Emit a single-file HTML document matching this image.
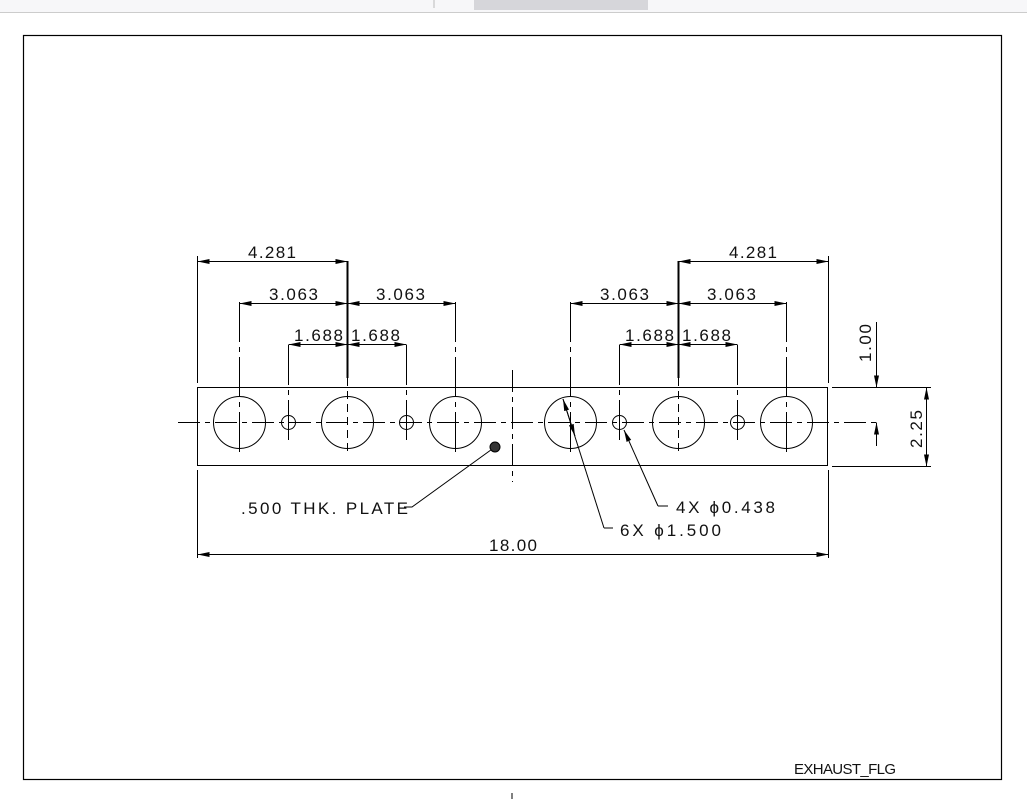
<!DOCTYPE html>
<html><head><style>
html,body{margin:0;padding:0;background:#fff;}
svg{display:block;}
text{font-family:"Liberation Sans",sans-serif;font-size:17px;fill:#111;}
</style></head><body>
<svg width="1027" height="799" viewBox="0 0 1027 799" xmlns="http://www.w3.org/2000/svg">
<defs>
<marker id="a" viewBox="0 0 12 6" refX="12" refY="3" markerWidth="12" markerHeight="6" markerUnits="userSpaceOnUse" orient="auto-start-reverse">
<path d="M0,0.5 L12,3 L0,5.5 z" fill="#000"/></marker>
</defs>
<rect x="0" y="0" width="1027" height="12" fill="#f7f7f9"/>
<line x1="0" y1="12.5" x2="1027" y2="12.5" stroke="#ccc"/>
<rect x="474" y="0" width="174" height="10" fill="#d6d6da"/>
<line x1="434" y1="0" x2="434" y2="8" stroke="#bbb"/>
<rect x="23.5" y="35.5" width="978" height="744" fill="none" stroke="#000" stroke-width="1.2"/>
<line x1="512" y1="793" x2="512" y2="799" stroke="#000"/>

<g stroke="#000" stroke-width="1" fill="none">
<rect x="197.5" y="387.5" width="630" height="78"/>
<line x1="178" y1="422.5" x2="880" y2="422.5" stroke-dasharray="22,5,5,5"/>
<line x1="512.5" y1="370" x2="512.5" y2="482" stroke-dasharray="22,5,5,5"/>
<circle cx="239.5" cy="422.5" r="26"/>
<circle cx="347.5" cy="422.5" r="26"/>
<circle cx="455.5" cy="422.5" r="26"/>
<circle cx="570.5" cy="422.5" r="26"/>
<circle cx="678.5" cy="422.5" r="26"/>
<circle cx="786.5" cy="422.5" r="26"/>
<circle cx="288.5" cy="422.5" r="7"/>
<circle cx="406.5" cy="422.5" r="7"/>
<circle cx="619.5" cy="422.5" r="7"/>
<circle cx="737.5" cy="422.5" r="7"/>
<g stroke-dasharray="40,5,5,5">
<line x1="239.5" y1="302" x2="239.5" y2="454"/>
<line x1="455.5" y1="302" x2="455.5" y2="454"/>
<line x1="570.5" y1="302" x2="570.5" y2="454"/>
<line x1="786.5" y1="302" x2="786.5" y2="454"/>
<line x1="288.5" y1="345" x2="288.5" y2="440"/>
<line x1="406.5" y1="345" x2="406.5" y2="440"/>
<line x1="619.5" y1="345" x2="619.5" y2="440"/>
<line x1="737.5" y1="345" x2="737.5" y2="440"/>
</g>
<line x1="347.5" y1="261" x2="347.5" y2="378" stroke-width="2"/>
<line x1="347.5" y1="378" x2="347.5" y2="454" stroke-dasharray="8,5"/>
<line x1="678.5" y1="261" x2="678.5" y2="378" stroke-width="2"/>
<line x1="678.5" y1="378" x2="678.5" y2="454" stroke-dasharray="8,5"/>
<line x1="197.5" y1="256" x2="197.5" y2="383"/>
<line x1="828.5" y1="256" x2="828.5" y2="383"/>
<line x1="197.5" y1="470" x2="197.5" y2="558"/>
<line x1="828.5" y1="470" x2="828.5" y2="558"/>
<line x1="197.5" y1="261.5" x2="347.5" y2="261.5" marker-start="url(#a)" marker-end="url(#a)"/>
<line x1="678.5" y1="261.5" x2="828.5" y2="261.5" marker-start="url(#a)" marker-end="url(#a)"/>
<line x1="239.5" y1="303.5" x2="347.5" y2="303.5" marker-start="url(#a)" marker-end="url(#a)"/>
<line x1="347.5" y1="303.5" x2="455.5" y2="303.5" marker-start="url(#a)" marker-end="url(#a)"/>
<line x1="570.5" y1="303.5" x2="678.5" y2="303.5" marker-start="url(#a)" marker-end="url(#a)"/>
<line x1="678.5" y1="303.5" x2="786.5" y2="303.5" marker-start="url(#a)" marker-end="url(#a)"/>
<line x1="288.5" y1="344.5" x2="347.5" y2="344.5" marker-start="url(#a)" marker-end="url(#a)"/>
<line x1="347.5" y1="344.5" x2="406.5" y2="344.5" marker-start="url(#a)" marker-end="url(#a)"/>
<line x1="619.5" y1="344.5" x2="678.5" y2="344.5" marker-start="url(#a)" marker-end="url(#a)"/>
<line x1="678.5" y1="344.5" x2="737.5" y2="344.5" marker-start="url(#a)" marker-end="url(#a)"/>
<line x1="197.5" y1="554.5" x2="828.5" y2="554.5" marker-start="url(#a)" marker-end="url(#a)"/>
<line x1="832" y1="387.5" x2="931" y2="387.5"/>
<line x1="832" y1="466.5" x2="931" y2="466.5"/>
<line x1="876.5" y1="322" x2="876.5" y2="387.5" marker-end="url(#a)"/>
<line x1="876.5" y1="446" x2="876.5" y2="422.5" marker-end="url(#a)"/>
<line x1="926.5" y1="387.5" x2="926.5" y2="466.5" marker-start="url(#a)" marker-end="url(#a)"/>
<polyline points="495,447 412,507 404,507"/>
<line x1="604" y1="528" x2="563" y2="399" marker-end="url(#a)"/>
<line x1="563" y1="399" x2="575" y2="436" marker-end="url(#a)"/>
<line x1="604" y1="528" x2="613" y2="528"/>
<line x1="658" y1="506" x2="624" y2="430" marker-end="url(#a)"/>
<line x1="658" y1="506" x2="668" y2="506"/>
</g>
<circle cx="495" cy="447" r="5" fill="#333" stroke="#000"/>

<text x="248" y="258" textLength="48">4.281</text>
<text x="729" y="258" textLength="48">4.281</text>
<text x="269" y="300" textLength="49">3.063</text>
<text x="376" y="300" textLength="49">3.063</text>
<text x="600" y="300" textLength="49">3.063</text>
<text x="707" y="300" textLength="49">3.063</text>
<text x="294" y="341" textLength="49">1.688</text>
<text x="351" y="341" textLength="49">1.688</text>
<text x="625" y="341" textLength="49">1.688</text>
<text x="682" y="341" textLength="49">1.688</text>
<text x="489" y="551" textLength="48">18.00</text>
<text x="241" y="514" textLength="167">.500 THK. PLATE</text>
<text x="620" y="536" textLength="101">6X ϕ1.500</text>
<text x="676" y="513" textLength="99">4X ϕ0.438</text>
<text x="794" y="774" style="font-size:15px" textLength="102" lengthAdjust="spacing">EXHAUST_FLG</text>
<text transform="translate(871,362) rotate(-90)" textLength="38">1.00</text>
<text transform="translate(922,448) rotate(-90)" textLength="38">2.25</text>
</svg>
</body></html>
